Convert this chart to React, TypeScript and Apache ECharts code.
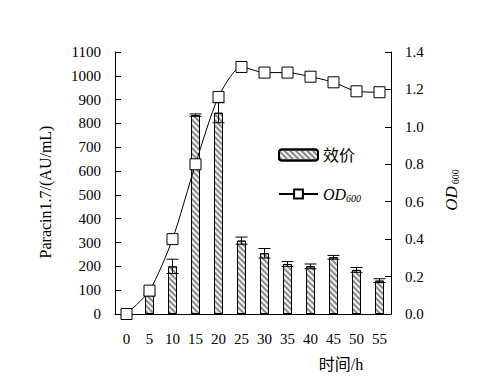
import React, { useEffect, useRef } from "react";
import * as echarts from "echarts";

const hours = ["0", "5", "10", "15", "20", "25", "30", "35", "40", "45", "50", "55"];
const titer = [0, 80, 200, 835, 845, 308, 255, 210, 200, 238, 185, 140];
const titerErr = [0, 4, 30, 5, 42, 15, 20, 10, 10, 8, 10, 8];
const od600 = [0, 0.125, 0.4, 0.8, 1.16, 1.32, 1.29, 1.29, 1.268, 1.238, 1.19, 1.185];

const FONT = "'Liberation Serif', 'Times New Roman', 'Noto Sans CJK SC', serif";

export default function App() {
  const ref = useRef<HTMLDivElement>(null);
  useEffect(() => {
    if (!ref.current) return;
    const chart = echarts.init(ref.current, null, { renderer: "svg" });
    const axisLineStyle = { color: "#000", width: 1 };
    const option: any = {
      animation: false,
      backgroundColor: "#fff",
      textStyle: { fontFamily: FONT, color: "#000" },
      grid: { left: 115, right: 103, top: 52, bottom: 76, containLabel: false },
      legend: {
        orient: "vertical",
        left: 273,
        top: 142,
        itemWidth: 39,
        itemHeight: 11,
        itemGap: 23,
        data: ["效价", "OD600"],
        textStyle: {
          fontFamily: FONT,
          fontSize: 16,
          color: "#000",
          rich: {
            i: { fontFamily: FONT, fontStyle: "italic", fontSize: 16, color: "#000" },
            s: { fontFamily: FONT, fontStyle: "italic", fontSize: 10, color: "#000", padding: [8, 0, 0, 0] },
          },
        },
        formatter: (n: string) => (n === "OD600" ? "{i|OD}{s|600}" : n),
      },
      xAxis: [
        {
          type: "category",
          data: hours,
          boundaryGap: true,
          axisLine: { lineStyle: axisLineStyle },
          axisTick: { inside: true, length: 6, lineStyle: axisLineStyle },
          axisLabel: { fontSize: 15, color: "#000", fontFamily: FONT, margin: 17, interval: 0 },
        },
        {
          type: "category",
          data: hours,
          boundaryGap: true,
          position: "bottom",
          axisLine: { show: false },
          axisTick: { inside: true, length: 3, alignWithLabel: true, lineStyle: axisLineStyle },
          axisLabel: { show: false },
        },
      ],
      yAxis: [
        {
          type: "value",
          min: 0,
          max: 1100,
          interval: 100,
          axisLine: { show: true, lineStyle: axisLineStyle },
          axisTick: { show: true, inside: true, length: 6, lineStyle: axisLineStyle },
          splitLine: { show: false },
          axisLabel: {
            fontSize: 15,
            color: "#000",
            fontFamily: FONT,
            margin: 14,
            formatter: (v: number) => String(v),
          },
        },
        {
          type: "value",
          min: 0,
          max: 1.4,
          interval: 0.2,
          position: "right",
          axisLine: { show: true, lineStyle: axisLineStyle },
          axisTick: { show: true, inside: true, length: 6, lineStyle: axisLineStyle },
          splitLine: { show: false },
          axisLabel: {
            fontSize: 15,
            color: "#000",
            fontFamily: FONT,
            margin: 14,
            formatter: (v: number) => v.toFixed(1),
          },
        },
      ],
      series: [
        {
          name: "效价",
          type: "bar",
          data: titer,
          barWidth: 9,
          z: 2,
          itemStyle: {
            color: "#f2f2f2",
            borderColor: "#000",
            borderWidth: 1,
            decal: {
              symbol: "rect",
              symbolSize: 1,
              dashArrayX: [1, 0],
              dashArrayY: [1.6, 1.8],
              rotation: Math.PI / 4,
              color: "#8a8a8a",
            },
          },
        },
        {
          name: "err",
          type: "custom",
          z: 3,
          data: hours.map((h, i) => [i, titer[i], titerErr[i]]),
          renderItem: (params: any, api: any) => {
            const x = api.value(0);
            const v = api.value(1);
            const e = api.value(2);
            if (!e) return null;
            const top = api.coord([x, v + e]);
            const bot = api.coord([x, v - e]);
            const hw = 6;
            const st = { stroke: "#000", lineWidth: 1 };
            return {
              type: "group",
              children: [
                { type: "line", shape: { x1: top[0], y1: top[1], x2: bot[0], y2: bot[1] }, style: st },
                { type: "line", shape: { x1: top[0] - hw, y1: top[1], x2: top[0] + hw, y2: top[1] }, style: st },
                { type: "line", shape: { x1: bot[0] - hw, y1: bot[1], x2: bot[0] + hw, y2: bot[1] }, style: st },
              ],
            };
          },
        },
        {
          name: "OD600",
          type: "line",
          yAxisIndex: 1,
          data: od600,
          smooth: 0.25,
          z: 5,
          symbol: "rect",
          symbolSize: 11,
          showAllSymbol: true,
          lineStyle: { color: "#000", width: 1 },
          itemStyle: { color: "#fff", borderColor: "#000", borderWidth: 1 },
        },
      ],
      graphic: [
        {
          type: "text",
          x: 45,
          y: 192,
          rotation: Math.PI / 2,
          style: {
            text: "Paracin1.7/(AU/mL)",
            fontFamily: FONT,
            fontSize: 16,
            fill: "#000",
            align: "center",
            verticalAlign: "middle",
          },
        },
        {
          type: "text",
          x: 451,
          y: 190,
          rotation: Math.PI / 2,
          style: {
            text: "{i|OD}{s|600}",
            fontFamily: FONT,
            fill: "#000",
            align: "center",
            verticalAlign: "middle",
            rich: {
              i: { fontFamily: FONT, fontStyle: "italic", fontSize: 17, fill: "#000" },
              s: { fontFamily: FONT, fontSize: 10, fill: "#000", padding: [8, 0, 0, 2] },
            },
          },
        },
        {
          type: "text",
          x: 341,
          y: 364,
          style: {
            text: "时间/h",
            fontFamily: FONT,
            fontSize: 16,
            fill: "#000",
            align: "center",
            verticalAlign: "middle",
          },
        },
      ],
    };
    chart.setOption(option);
    return () => chart.dispose();
  }, []);
  return (
    <div
      ref={ref}
      style={{ position: "fixed", left: 0, top: 0, width: 494, height: 390, background: "#fff" }}
    />
  );
}
